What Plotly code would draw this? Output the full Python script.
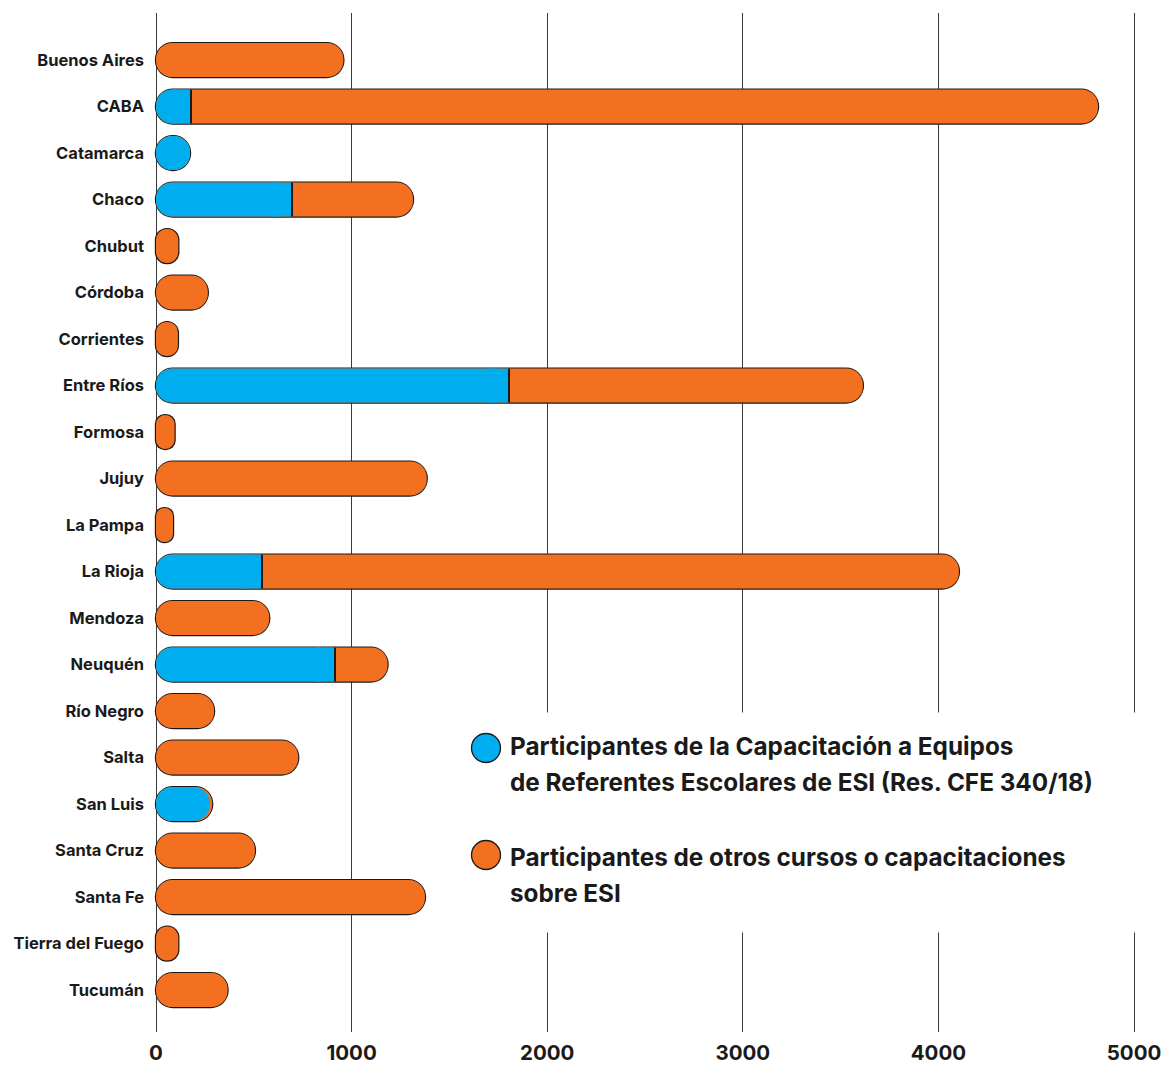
import plotly.graph_objects as go

# ---------------- data ----------------
provinces = ["Buenos Aires", "CABA", "Catamarca", "Chaco", "Chubut", "Córdoba",
             "Corrientes", "Entre Ríos", "Formosa", "Jujuy", "La Pampa", "La Rioja",
             "Mendoza", "Neuquén", "Río Negro", "Salta", "San Luis", "Santa Cruz",
             "Santa Fe", "Tierra del Fuego", "Tucumán"]
referentes = [0, 180, 174, 695, 0, 0, 0, 1805, 0, 0, 0, 543, 0, 917, 0, 0, 275, 0, 0, 0, 0]
otros = [958, 4636, 0, 619, 114, 265, 112, 1809, 95, 1384, 87, 3562, 579, 267, 297, 727,
         12, 506, 1375, 114, 366]
x_ticks = [0, 1000, 2000, 3000, 4000, 5000]
legend_lines_1 = ["Participantes de la Capacitación a Equipos",
                  "de Referentes Escolares de ESI (Res. CFE 340/18)"]
legend_lines_2 = ["Participantes de otros cursos o capacitaciones",
                  "sobre ESI"]

# ---------------- style ----------------
BLUE = "#00AEEF"
ORANGE = "#F37021"
INK = "#1a1a1a"
GRID = "#3a3a3a"
FONT = "Inter"
W = 0.73          # bar thickness (category units)
DW = 0.05         # extra thickness of outline layer
E = 6             # outline extension at the ends (data units)
D = 6.5           # divider thickness (data units)
SQ = 100          # length of the square-ended block closing the blue part
SMALL = 60        # below this the blue part keeps a rounded right end

FIG_W, FIG_H = 1163, 1066
ML, MR, MT, MB = 154, 27, 13, 34
PW = FIG_W - ML - MR
PH = FIG_H - MT - MB


def px_x(px):
    return (px - ML) / PW


def px_y(py):
    return 1 - (py - MT) / PH


total = [b + o for b, o in zip(referentes, otros)]
n = len(provinces)

fig = go.Figure()


def add_bar(base, x, color, width, radius="50%"):
    fig.add_trace(go.Bar(
        y=provinces, x=x, base=base, orientation="h", width=width,
        marker=dict(color=color, line=dict(width=0), cornerradius=radius),
        showlegend=False, hoverinfo="skip"))


# outline layer (black pill, slightly larger)
add_bar([-E] * n, [t + 2 * E for t in total], INK, W + DW)
# orange pill (full length)
add_bar([0] * n, total, ORANGE, W)
# blue part: pill from 0, closed by a square block and a divider line
bp_base, bp_x, sq_base, sq_x, dv_base, dv_x = [], [], [], [], [], []
for b, o in zip(referentes, otros):
    if b <= 0:
        bp_base.append(None); bp_x.append(None)
        sq_base.append(None); sq_x.append(None)
        dv_base.append(None); dv_x.append(None)
        continue
    bp_base.append(0); bp_x.append(b)
    if o < SMALL:
        sq_base.append(None); sq_x.append(None)
        dv_base.append(None); dv_x.append(None)
    else:
        s = min(b / 2, SQ)
        sq_base.append(b - s); sq_x.append(s)
        dv_base.append(b - D / 2); dv_x.append(D)
add_bar(bp_base, bp_x, BLUE, W)
add_bar(sq_base, sq_x, BLUE, W, radius=0)
add_bar(dv_base, dv_x, INK, W, radius=0)

# white panel behind the legend (covers grid lines; no bars reach this area)
fig.add_shape(type="rect", xref="paper", yref="paper",
              x0=px_x(458), x1=px_x(1163), y0=px_y(932.5), y1=px_y(712.5),
              fillcolor="white", line=dict(width=0), layer="above")

# legend built from circles + text
for cy, color, lines, ys in [(748, BLUE, legend_lines_1, (746, 782)),
                              (855, ORANGE, legend_lines_2, (857, 893))]:
    fig.add_shape(type="circle", xref="paper", yref="paper",
                  xsizemode="pixel", ysizemode="pixel",
                  xanchor=px_x(486), yanchor=px_y(cy),
                  x0=-14.5, x1=14.5, y0=-14.5, y1=14.5,
                  fillcolor=color, line=dict(color=INK, width=1.3), layer="above")
    for txt, ty in zip(lines, ys):
        fig.add_annotation(xref="paper", yref="paper", x=px_x(508), y=px_y(ty),
                           xanchor="left", yanchor="middle", text=txt, showarrow=False,
                           font=dict(family=FONT, size=24.3, color=INK, weight="bold"))

fig.update_layout(
    width=FIG_W, height=FIG_H,
    margin=dict(l=ML, r=MR, t=MT, b=MB, pad=0, autoexpand=False),
    barmode="overlay",
    plot_bgcolor="white", paper_bgcolor="white",
    font=dict(family=FONT, color=INK),
    showlegend=False,
    xaxis=dict(range=[-10.2, 5010.2], tickvals=x_ticks, ticktext=[str(v) for v in x_ticks],
               showgrid=True, gridcolor=GRID, gridwidth=1.3, zeroline=False,
               showline=False, ticks="", ticklabelstandoff=6, automargin=False,
               tickfont=dict(family=FONT, size=20.5, color=INK, weight="bold")),
    yaxis=dict(type="category", categoryorder="array", categoryarray=provinces,
               range=[20.903, -1.011], showgrid=False, zeroline=False, showline=False,
               ticks="", ticklabelstandoff=9, automargin=False,
               tickfont=dict(family=FONT, size=16.5, color=INK, weight="bold")),
)

fig.write_html("out.html", config={"displayModeBar": False},
               post_script="document.body.style.margin='0';"
                           "document.body.style.overflow='hidden';")
